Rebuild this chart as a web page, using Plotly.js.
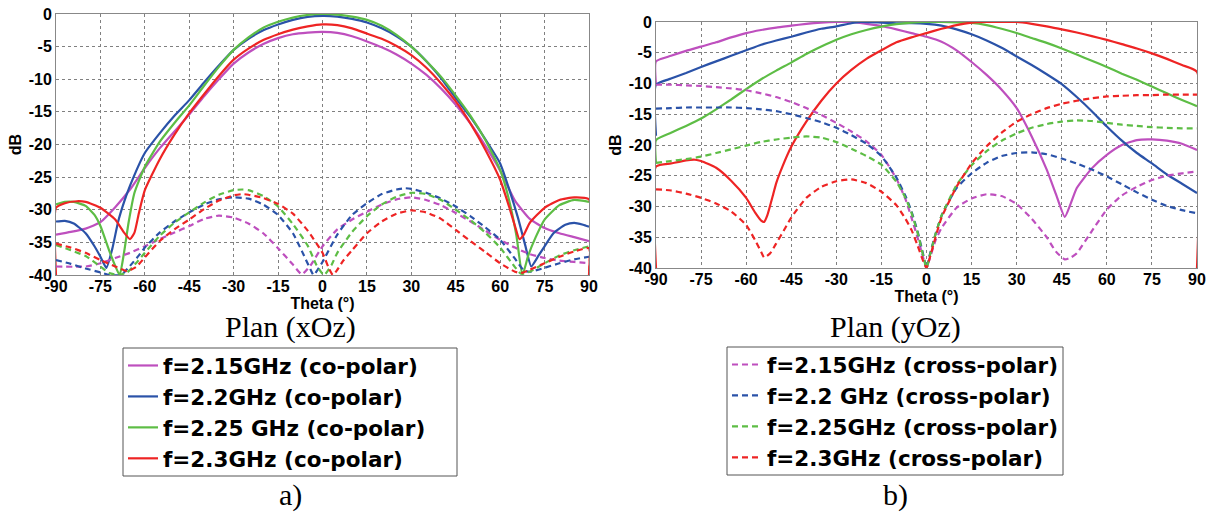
<!DOCTYPE html>
<html><head><meta charset="utf-8">
<script src="https://cdn.plot.ly/plotly-3.0.1.min.js"></script>
<style>html,body{margin:0;padding:0;background:#fff}#chart{width:1206px;height:513px}</style>
</head><body><div id="chart"></div><script>
// ---------- Plan (xOz) : co-polar ----------
const th_xoz_co_215 = [-90,-85,-80,-75,-70,-65,-60,-55,-50,-45,-40,-35,-30,-25,-20,-15,-10,-5,0,5,10,15,20,25,30,35,40,45,50,55,60,65,70,75,80,85,90];
const db_xoz_co_215 = [-33.8,-33.4,-32.9,-31.9,-29.6,-26.9,-23.6,-20.6,-18.0,-15.4,-12.6,-10.0,-7.6,-5.9,-4.6,-3.7,-3.1,-2.85,-2.75,-2.9,-3.4,-4.2,-5.1,-6.2,-7.6,-9.3,-11.4,-13.9,-16.8,-20.2,-24.0,-28.6,-31.4,-32.8,-33.6,-34.2,-34.8];
const th_xoz_co_22 = [-90,-87,-84,-80,-77,-75,-73,-71,-69,-67,-65,-60,-55,-50,-45,-40,-35,-30,-25,-20,-15,-10,-5,0,5,10,15,20,25,30,35,40,45,50,55,60,63,66,68.5,70.5,73,75,78,82,85,88,90];
const db_xoz_co_22 = [-31.8,-31.7,-32.1,-33.6,-35.6,-37.2,-38.9,-36.0,-31.8,-28.8,-26.3,-21.3,-18.3,-15.6,-13.2,-10.5,-7.9,-5.5,-3.8,-2.5,-1.6,-0.9,-0.45,-0.3,-0.4,-0.75,-1.3,-2.2,-3.4,-5.0,-7.2,-9.8,-12.9,-15.8,-19.2,-22.9,-26.8,-31.2,-35.5,-38.7,-37.0,-35.6,-33.6,-32.3,-32.0,-32.3,-32.6];
const th_xoz_co_225 = [-90,-87,-84,-80,-77,-75,-72,-70,-68.5,-67,-65.5,-63.5,-60,-55,-50,-45,-40,-35,-30,-25,-20,-15,-10,-5,0,5,10,15,20,25,30,35,40,45,50,55,60,63,65.5,67.5,69.5,72,75,80,85,90];
const db_xoz_co_225 = [-29.2,-28.8,-28.8,-29.4,-30.8,-32.5,-36.3,-38.6,-40,-36.5,-32.0,-27.4,-23.4,-19.6,-16.7,-14.0,-11.0,-8.1,-5.5,-3.6,-2.1,-1.2,-0.55,-0.15,0,-0.1,-0.4,-0.9,-1.8,-3.2,-5.0,-7.2,-9.6,-12.5,-15.6,-19.3,-23.9,-28.5,-34.0,-40,-37.0,-34.2,-31.5,-29.3,-28.5,-28.8];
const th_xoz_co_23 = [-90,-90,-87,-83,-80,-75,-70,-67,-65,-63.5,-62,-60,-55,-50,-45,-40,-35,-30,-25,-20,-15,-10,-5,0,5,10,15,20,25,30,35,40,45,50,55,60,63,65,66.5,68,70,75,80,85,90,90];
const db_xoz_co_23 = [-40,-29.7,-29.0,-28.7,-28.8,-29.7,-31.5,-33.5,-34.5,-33.5,-30.5,-27.0,-22.3,-18.5,-15.2,-12.3,-9.5,-7.0,-5.3,-4.0,-3.1,-2.4,-1.9,-1.6,-1.7,-2.2,-3.0,-3.8,-4.9,-6.3,-8.2,-10.6,-13.4,-16.8,-20.8,-25.4,-29.5,-32.5,-34.5,-33.8,-32.0,-29.7,-28.5,-28.1,-28.4,-40];

// ---------- Plan (xOz) : cross-polar ----------
const th_xoz_x_215 = [-90,-80,-75,-70,-65,-60,-55,-50,-45,-40,-35,-30,-25,-20,-15,-10,-7,-4,0,5,10,15,20,25,30,35,40,45,50,55,60,65,70,75,80,85,90];
const db_xoz_x_215 = [-38.7,-38.7,-38.2,-37.4,-36.6,-35.6,-34.5,-33.5,-32.5,-31.4,-30.9,-31.2,-32.1,-33.6,-35.9,-38.4,-39.9,-38.5,-35.6,-33.0,-31.5,-30.3,-29.2,-28.4,-28.1,-28.5,-29.3,-30.5,-31.8,-33.2,-34.6,-35.8,-36.8,-37.4,-37.8,-38.0,-38.2];
const th_xoz_x_22 = [-90,-85,-80,-75,-72,-68,-65,-62,-60,-55,-50,-45,-40,-35,-30,-25,-20,-15,-10,-7,-4,-3,0,5,10,15,20,25,28,30,35,40,45,50,55,60,65,68,70,75,80,85,90];
const db_xoz_x_22 = [-37.7,-38.3,-39.0,-39.6,-40,-40,-38.6,-37.0,-35.8,-33.5,-31.8,-30.4,-29.2,-28.4,-28.1,-28.3,-29.2,-30.8,-33.6,-36.3,-39.2,-40,-38.0,-33.8,-30.8,-29.0,-27.6,-26.9,-26.7,-26.8,-27.4,-28.3,-29.5,-31.0,-32.7,-34.6,-37.5,-39.3,-39.5,-38.9,-38.2,-37.6,-37.2];
const th_xoz_x_225 = [-90,-85,-80,-75,-72,-69,-66,-63,-60,-55,-50,-45,-40,-35,-30,-27,-25,-20,-15,-10,-5,-2,0.5,3,5,10,15,20,25,30,35,40,45,50,55,60,65,67,70,75,80,85,90];
const db_xoz_x_225 = [-35.4,-36.2,-37.1,-38.7,-39.7,-40,-39.6,-38.2,-36.6,-34.0,-32.0,-30.4,-28.9,-27.7,-27.0,-26.9,-27.0,-27.9,-29.5,-32.2,-35.5,-38.5,-40,-38.5,-36.6,-33.4,-31.0,-29.2,-28.0,-27.4,-27.6,-28.5,-30.0,-31.6,-33.5,-35.8,-38.8,-39.8,-39.5,-38.2,-37.0,-36.2,-35.6];
const th_xoz_x_23 = [-90,-85,-80,-75,-70,-66,-63,-60,-55,-50,-45,-40,-35,-30,-27,-25,-20,-15,-10,-5,0,2,3.5,5,7,10,15,20,25,30,35,40,45,50,55,60,65,67,70,75,80,85,90,90];
const db_xoz_x_23 = [-35.2,-35.8,-36.6,-37.7,-38.7,-39.4,-38.8,-37.3,-34.8,-33.0,-31.5,-29.9,-28.6,-27.8,-27.6,-27.7,-28.2,-29.1,-30.6,-33.2,-36.6,-38.8,-40,-39.2,-37.8,-36.2,-33.6,-31.8,-30.6,-30.1,-30.4,-31.4,-33.1,-34.8,-36.5,-38.2,-39.5,-39.7,-39.2,-38.2,-37.2,-36.4,-35.9,-40];

// ---------- Plan (yOz) : co-polar ----------
const th_yoz_co_215 = [-90,-90,-85,-80,-75,-70,-65,-60,-55,-50,-45,-40,-35,-30,-25,-20,-15,-10,-5,0,5,10,15,20,25,30,35,40,43,46,48,50,55,60,65,70,75,80,85,90];
const db_yoz_co_215 = [-10.2,-6.4,-5.5,-4.7,-4.0,-3.3,-2.5,-1.8,-1.3,-0.9,-0.6,-0.3,-0.1,0,0,-0.3,-0.65,-1.2,-1.8,-2.4,-3.2,-4.6,-6.5,-8.6,-11.0,-14.0,-18.6,-24.0,-27.9,-31.7,-29.5,-27.0,-23.8,-21.6,-20.0,-19.2,-19.1,-19.3,-19.8,-20.8];
const th_yoz_co_22 = [-90,-90,-85,-80,-75,-70,-65,-60,-55,-50,-45,-40,-35,-30,-25,-22,-15,-10,-5,0,5,10,15,20,25,30,35,40,45,50,55,60,65,70,75,80,85,90];
const db_yoz_co_22 = [-18.5,-10.2,-9.2,-8.3,-7.3,-6.4,-5.5,-4.6,-3.7,-3.0,-2.4,-1.7,-1.1,-0.7,-0.2,0,-0.1,-0.2,-0.2,-0.3,-0.6,-1.2,-2.0,-3.0,-4.2,-5.6,-7.0,-8.5,-10.1,-12.2,-14.5,-17.0,-19.3,-21.3,-23.0,-24.8,-26.3,-27.8];
const th_yoz_co_225 = [-90,-90,-85,-80,-75,-70,-65,-60,-55,-50,-45,-40,-35,-30,-25,-20,-15,-10,-5,0,5,10,15,20,25,30,35,40,45,50,55,60,65,70,75,80,85,90];
const db_yoz_co_225 = [-23.0,-19.2,-18.0,-16.9,-15.7,-14.2,-12.6,-10.9,-9.3,-7.9,-6.6,-5.2,-4.0,-2.9,-2.0,-1.3,-0.75,-0.35,-0.1,0,0,-0.05,-0.15,-0.5,-1.1,-1.8,-2.6,-3.4,-4.3,-5.3,-6.3,-7.3,-8.4,-9.4,-10.5,-11.6,-12.7,-13.7];
const th_yoz_co_23 = [-90,-90,-85,-80,-77,-75,-70,-65,-60,-57,-55,-54,-53,-51,-50,-48,-45,-40,-35,-30,-25,-20,-15,-10,-5,0,5,10,15,20,25,30,35,40,45,50,55,60,65,70,75,80,85,90,90];
const db_yoz_co_23 = [-40,-23.5,-23.0,-22.5,-22.4,-22.6,-23.7,-25.8,-28.6,-31.0,-32.3,-32.5,-31.5,-28.0,-26.2,-23.6,-20.3,-16.2,-12.8,-10.0,-7.8,-6.0,-4.6,-3.3,-2.5,-1.8,-1.1,-0.5,-0.1,0,0,0,-0.3,-0.7,-1.2,-1.7,-2.3,-2.9,-3.6,-4.3,-5.1,-6.0,-7.0,-8.1,-40];

// ---------- Plan (yOz) : cross-polar ----------
const th_yoz_x_215 = [-90,-85,-80,-75,-70,-65,-60,-55,-50,-45,-40,-35,-30,-25,-20,-15,-10,-7,-5,-3,-1,0,1,3,5,10,15,20,25,30,35,40,43,46,48,50,55,60,65,70,75,80,85,90];
const db_yoz_x_215 = [-10.2,-10.2,-10.3,-10.4,-10.6,-10.8,-11.1,-11.6,-12.2,-13.0,-14.0,-15.1,-16.4,-17.8,-19.4,-21.6,-25.5,-28.8,-31.8,-35.0,-38.5,-40,-38.6,-35.5,-33.5,-30.2,-28.7,-28.0,-28.3,-29.6,-32.0,-35.0,-37.3,-38.6,-38.3,-37.6,-34.0,-30.5,-28.2,-26.8,-25.7,-25.0,-24.6,-24.3];
const th_yoz_x_22 = [-90,-85,-80,-75,-70,-65,-60,-55,-50,-45,-40,-35,-30,-25,-20,-15,-10,-7,-5,-3,-1,0,1,3,5,10,15,20,25,30,35,40,45,50,55,60,65,70,75,80,85,90];
const db_yoz_x_22 = [-14.1,-14.0,-13.9,-13.9,-13.9,-13.9,-14.0,-14.2,-14.5,-15.0,-15.6,-16.3,-17.2,-18.4,-19.8,-21.8,-25.3,-28.3,-30.8,-34.0,-38.0,-40,-38.0,-34.5,-31.5,-27.0,-24.6,-22.9,-21.8,-21.3,-21.2,-21.5,-22.2,-23.0,-24.0,-25.1,-26.4,-27.7,-28.9,-29.9,-30.6,-31.1];
const th_yoz_x_225 = [-90,-85,-80,-75,-70,-65,-60,-55,-50,-45,-40,-35,-30,-25,-20,-15,-10,-7,-5,-3,-1,0,1,3,5,10,15,20,25,30,35,40,45,50,55,60,65,70,75,80,85,90];
const db_yoz_x_225 = [-22.9,-22.6,-22.3,-21.9,-21.3,-20.7,-20.1,-19.5,-19.1,-18.8,-18.6,-18.8,-19.5,-20.6,-21.8,-23.2,-26.0,-28.6,-31.0,-34.2,-38.2,-40,-38.2,-34.5,-31.5,-26.5,-23.3,-21.0,-19.3,-18.1,-17.2,-16.6,-16.2,-16.0,-16.1,-16.4,-16.7,-16.9,-17.1,-17.2,-17.3,-17.3];
const th_yoz_x_23 = [-90,-85,-80,-75,-70,-65,-60,-57,-55,-54,-52,-50,-47,-45,-40,-35,-30,-25,-20,-15,-10,-7,-5,-3,-1,0,1,3,5,10,15,20,25,30,35,40,45,50,55,60,65,70,75,80,85,90];
const db_yoz_x_23 = [-27.2,-27.4,-27.9,-28.6,-29.5,-30.8,-33.0,-35.5,-37.4,-38.3,-37.6,-36.0,-33.5,-31.8,-28.6,-26.8,-25.9,-25.6,-26.2,-27.6,-29.8,-32.0,-33.8,-36.3,-39.0,-40,-38.5,-35.0,-31.8,-26.8,-23.0,-20.2,-18.0,-16.2,-15.0,-14.0,-13.3,-12.8,-12.4,-12.1,-12.0,-11.9,-11.9,-11.8,-11.8,-11.8];

// ---------- labels ----------
const coNames = ['f=2.15GHz (co-polar)','f=2.2GHz (co-polar)','f=2.25 GHz (co-polar)','f=2.3GHz (co-polar)'];
const crossNames = ['f=2.15GHz (cross-polar)','f=2.2 GHz (cross-polar)','f=2.25GHz (cross-polar)','f=2.3GHz (cross-polar)'];
const xTickVals = [-90,-75,-60,-45,-30,-15,0,15,30,45,60,75,90];
const xTickText = ['-90','-75','-60','-45','-30','-15','0','15','30','45','60','75','90'];
const yTickVals = [0,-5,-10,-15,-20,-25,-30,-35,-40];
const yTickText = ['0','-5','-10','-15','-20','-25','-30','-35','-40'];
const panelTitles = ['Plan (xOz)','Plan (yOz)'];
const panelLetters = ['a)','b)'];

const colors = ['#BE4FBE','#2A52A8','#5DBD45','#EE2424'];

const xozCo = [[th_xoz_co_215,db_xoz_co_215],[th_xoz_co_22,db_xoz_co_22],[th_xoz_co_225,db_xoz_co_225],[th_xoz_co_23,db_xoz_co_23]];
const xozX  = [[th_xoz_x_215,db_xoz_x_215],[th_xoz_x_22,db_xoz_x_22],[th_xoz_x_225,db_xoz_x_225],[th_xoz_x_23,db_xoz_x_23]];
const yozCo = [[th_yoz_co_215,db_yoz_co_215],[th_yoz_co_22,db_yoz_co_22],[th_yoz_co_225,db_yoz_co_225],[th_yoz_co_23,db_yoz_co_23]];
const yozX  = [[th_yoz_x_215,db_yoz_x_215],[th_yoz_x_22,db_yoz_x_22],[th_yoz_x_225,db_yoz_x_225],[th_yoz_x_23,db_yoz_x_23]];

const traces = [];
function add(set, names, dashed, xa, ya, legendId, show){
  set.forEach((s,i)=>{
    traces.push({
      type:'scatter', mode:'lines', x:s[0], y:s[1], xaxis:xa, yaxis:ya,
      name:'<b>'+names[i]+'</b>', legend:legendId, showlegend:show,
      line:{color:colors[i], width:2.2, dash: dashed ? '6px,4px' : 'solid', shape:'spline', smoothing:0.5},
      hoverinfo:'skip'
    });
  });
}
add(xozCo, coNames, false, 'x', 'y', 'legend', true);
add(xozX, crossNames, true, 'x', 'y', 'legend2', false);
add(yozCo, coNames, false, 'x2', 'y2', 'legend', false);
add(yozX, crossNames, true, 'x2', 'y2', 'legend2', true);

const W = 1206, H = 513;
const tickFont = {family:'Liberation Sans, Arial, sans-serif', size:16, color:'#000', weight:'bold'};
function xAxis(d){
  return {domain:d, range:[-90,90], tickvals:xTickVals, ticktext:xTickText, tickfont:tickFont, ticklabelstandoff:-3,
    showline:true, mirror:true, linecolor:'#888', linewidth:1, showgrid:true, gridcolor:'#808080', griddash:'dot', gridwidth:1,
    zeroline:false, ticks:'', fixedrange:true,
    title:{text:'<b>Theta (°)</b>', font:{family:'Liberation Sans, Arial, sans-serif', size:16, color:'#000'}, standoff:0}};
}
function yAxis(d, anchor){
  return {domain:d, range:[-40,0], anchor:anchor, tickvals:yTickVals, ticktext:yTickText, tickfont:tickFont,
    showline:true, mirror:true, linecolor:'#888', linewidth:1, showgrid:true, gridcolor:'#808080', griddash:'dot', gridwidth:1,
    zeroline:false, ticks:'', fixedrange:true,
    title:{text:'<b>dB</b>', font:{family:'Liberation Sans, Arial, sans-serif', size:16, color:'#000'}, standoff:3}};
}
const legFont = {family:'DejaVu Sans, sans-serif', size:21.5, color:'#000'};
const serif = {family:'Liberation Serif, Times New Roman, serif', size:30, color:'#000'};

const layout = {
  width:W, height:H, margin:{l:0,r:0,t:0,b:0}, paper_bgcolor:'#fff', plot_bgcolor:'#fff',
  xaxis: xAxis([56/W, 589/W]), yaxis: yAxis([1-275/H, 1-14/H], 'x'),
  xaxis2: Object.assign(xAxis([656/W, 1197/W]), {anchor:'y2'}), yaxis2: yAxis([1-268/H, 1-22/H], 'x2'),
  legend:{x:123/W, y:1-345/H, xanchor:'left', yanchor:'top', borderwidth:0, bgcolor:'rgba(0,0,0,0)', font:legFont, tracegroupgap:0, itemwidth:30},
  legend2:{x:727/W, y:1-344/H, xanchor:'left', yanchor:'top', borderwidth:0, bgcolor:'rgba(0,0,0,0)', font:legFont, tracegroupgap:0, itemwidth:30},
  shapes:[
    {type:'rect', xref:'paper', yref:'paper', x0:123/W, x1:457/W, y0:1-476/H, y1:1-348/H, line:{color:'#555', width:1}, fillcolor:'rgba(0,0,0,0)'},
    {type:'rect', xref:'paper', yref:'paper', x0:727/W, x1:1063/W, y0:1-475/H, y1:1-347/H, line:{color:'#555', width:1}, fillcolor:'rgba(0,0,0,0)'}
  ],
  annotations:[
    {text:panelTitles[0], x:290/W, y:1-327/H, xref:'paper', yref:'paper', showarrow:false, font:serif, xanchor:'center', yanchor:'middle'},
    {text:panelTitles[1], x:895/W, y:1-327/H, xref:'paper', yref:'paper', showarrow:false, font:serif, xanchor:'center', yanchor:'middle'},
    {text:panelLetters[0], x:290/W, y:0, xref:'paper', yref:'paper', showarrow:false, font:serif, xanchor:'center', yanchor:'bottom', borderpad:0},
    {text:panelLetters[1], x:895/W, y:0, xref:'paper', yref:'paper', showarrow:false, font:serif, xanchor:'center', yanchor:'bottom', borderpad:0}
  ],
  showlegend:true
};
Plotly.newPlot('chart', traces, layout, {displayModeBar:false, staticPlot:true});
</script></body></html>
